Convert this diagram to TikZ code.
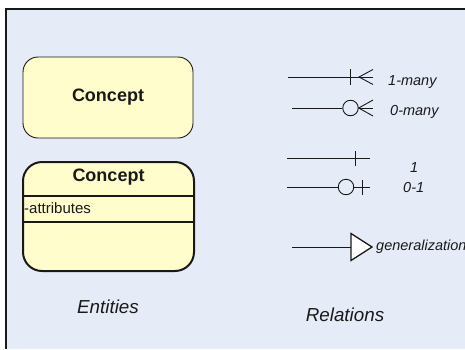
\documentclass[tikz,border=0pt]{standalone}
\usepackage{fontspec}
\setmainfont{Liberation Sans}
\definecolor{canvas}{RGB}{230,236,247}
\definecolor{entityfill}{RGB}{255,253,204}
\definecolor{ink}{RGB}{25,25,25}
\begin{document}
\begin{tikzpicture}[x=1pt,y=-1pt,
  entity/.style={draw=ink, fill=entityfill, inner sep=0pt},
  title/.style={font=\fontsize{18}{20}\selectfont\bfseries, text=ink},
  caption/.style={font=\fontsize{18.8}{21}\selectfont\itshape, text=ink},
  rellabel/.style={font=\fontsize{14.5}{16}\selectfont\itshape, text=ink, anchor=west, inner sep=0pt},
  relline/.style={draw=ink, line width=0.9pt},
  ring/.style={circle, draw=ink, fill=canvas, line width=0.9pt, inner sep=0pt, minimum size=15.5pt}]
\useasboundingbox (0,0) rectangle (465,349);
% page and frame
\fill[white] (0,0) rectangle (465,349);
\fill[canvas] (6,9) rectangle (465,349);
\draw[ink, line width=1.4pt] (6,349) -- (6,9) -- (465,9);

% ---- entities ----
\node[entity, line width=0.9pt, rounded corners=15pt, minimum width=170pt, minimum height=81pt]
  (c1) at (108,97.5) {};
\node[title] (c1t) at (c1.center) {Concept};

\node[entity, line width=2pt, rounded corners=19pt, minimum width=171pt, minimum height=109pt]
  (c2) at (108.5,216.5) {};
\node[title] (c2t) at (108.5,177.5) {Concept};
\draw[ink, line width=1.8pt] (c2.west |- 0,196) -- (c2.east |- 0,196);
\draw[ink, line width=1.8pt] (c2.west |- 0,222) -- (c2.east |- 0,222);
\node[anchor=west, inner sep=0pt, text=ink, font=\fontsize{15}{17}\selectfont] (c2a) at (24,208.5) {-attributes};

\node[caption] (ent) at (108,306.5) {Entities};

% ---- relations ----
% one-to-many
\coordinate (m1s) at (288,77);
\coordinate (m1e) at (373,77);
\coordinate (m1f) at (359,77);
\draw[relline] (m1s) -- (m1e);
\draw[relline] (350,69) -- (350,85);
\draw[relline] (373,69.5) -- (m1f) -- (373,84.5);
\node[rellabel] (l1) at (388,82) {1-many};

% zero-to-many
\coordinate (m2s) at (292,108);
\node[ring] (o2) at (350.5,108) {};
\coordinate (m2e) at (373,108);
\draw[relline] (m2s) -- (o2.west);
\draw[relline] (o2.east) -- (m2e);
\draw[relline] (373,100) -- (o2.east) -- (373,116);
\node[rellabel] (l2) at (390,112) {0-many};

% one
\coordinate (m3s) at (287,158);
\coordinate (m3e) at (370,158);
\draw[relline] (m3s) -- (m3e);
\draw[relline] (355,151) -- (355,166);
\node[rellabel] (l3) at (410,168) {1};

% zero-or-one
\coordinate (m4s) at (287,187);
\node[ring] (o4) at (346,187) {};
\coordinate (m4e) at (370,187);
\draw[relline] (m4s) -- (o4.west);
\draw[relline] (o4.east) -- (m4e);
\draw[relline] (362,180) -- (362,195);
\node[rellabel] (l4) at (403,188) {0-1};

% generalization
\coordinate (gs) at (292,247);
\coordinate (gb) at (351,247);
\coordinate (gtip) at (372,247);
\draw[relline] (gs) -- (gb);
\draw[draw=ink, fill=white, line width=1.3pt] (351,233.5) -- (gtip) -- (351,260.5) -- cycle;
\node[rellabel] (l5) at (376,247) {generalization};

\node[caption] (rel) at (345,315) {Relations};
\end{tikzpicture}
\end{document}
